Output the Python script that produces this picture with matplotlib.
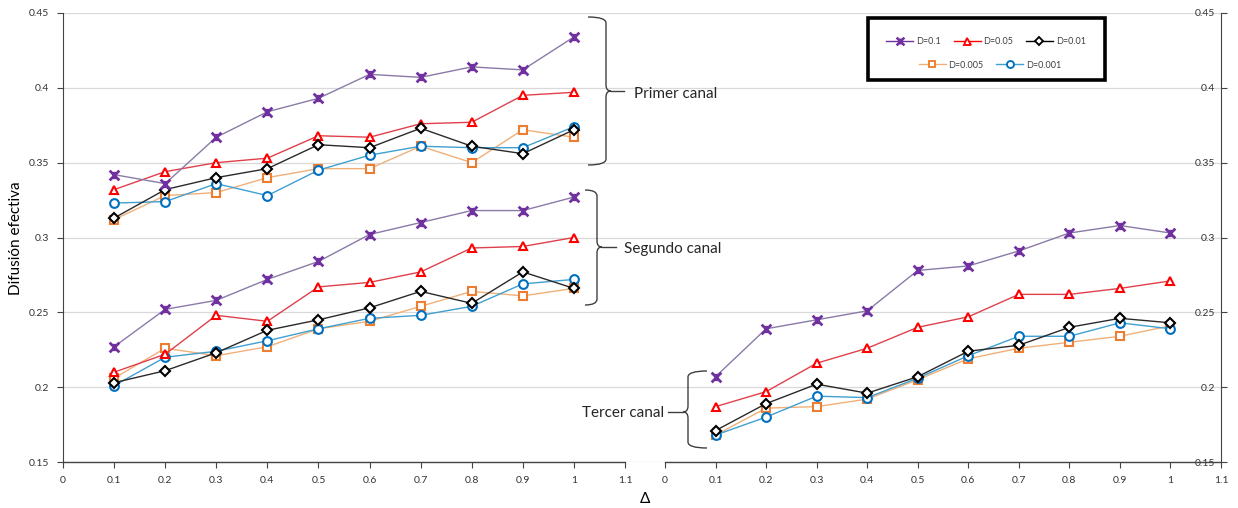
import matplotlib
matplotlib.use("Agg")
import matplotlib.pyplot as plt
from matplotlib.path import Path
from matplotlib.patches import PathPatch, Rectangle
from matplotlib.lines import Line2D

plt.rcParams['font.family'] = ['Lato', 'DejaVu Sans']

# ---------------- data ----------------
delta = [0.1, 0.2, 0.3, 0.4, 0.5, 0.6, 0.7, 0.8, 0.9, 1.0]
labels = ["D=0.1", "D=0.05", "D=0.01", "D=0.005", "D=0.001"]

# Primer canal (left panel, upper group)
primer_D0_1   = [0.342, 0.336, 0.367, 0.384, 0.393, 0.409, 0.407, 0.414, 0.412, 0.434]
primer_D0_05  = [0.332, 0.344, 0.350, 0.353, 0.368, 0.367, 0.376, 0.377, 0.395, 0.397]
primer_D0_01  = [0.313, 0.332, 0.340, 0.346, 0.362, 0.360, 0.373, 0.361, 0.356, 0.372]
primer_D0_005 = [0.312, 0.328, 0.330, 0.340, 0.346, 0.346, 0.361, 0.350, 0.372, 0.367]
primer_D0_001 = [0.323, 0.324, 0.336, 0.328, 0.345, 0.355, 0.361, 0.360, 0.360, 0.374]

# Segundo canal (left panel, lower group)
segundo_D0_1   = [0.227, 0.252, 0.258, 0.272, 0.284, 0.302, 0.310, 0.318, 0.318, 0.327]
segundo_D0_05  = [0.210, 0.222, 0.248, 0.244, 0.267, 0.270, 0.277, 0.293, 0.294, 0.300]
segundo_D0_01  = [0.203, 0.211, 0.223, 0.238, 0.245, 0.253, 0.264, 0.256, 0.277, 0.266]
segundo_D0_005 = [0.206, 0.226, 0.221, 0.227, 0.239, 0.244, 0.254, 0.264, 0.261, 0.266]
segundo_D0_001 = [0.201, 0.220, 0.224, 0.231, 0.239, 0.246, 0.248, 0.254, 0.269, 0.272]

# Tercer canal (right panel)
tercer_D0_1   = [0.207, 0.239, 0.245, 0.251, 0.278, 0.281, 0.291, 0.303, 0.308, 0.303]
tercer_D0_05  = [0.187, 0.197, 0.216, 0.226, 0.240, 0.247, 0.262, 0.262, 0.266, 0.271]
tercer_D0_01  = [0.171, 0.189, 0.202, 0.196, 0.207, 0.224, 0.228, 0.240, 0.246, 0.243]
tercer_D0_005 = [0.168, 0.186, 0.187, 0.192, 0.205, 0.219, 0.226, 0.230, 0.234, 0.241]
tercer_D0_001 = [0.168, 0.180, 0.194, 0.193, 0.206, 0.221, 0.234, 0.234, 0.243, 0.239]

xticks = [0, 0.1, 0.2, 0.3, 0.4, 0.5, 0.6, 0.7, 0.8, 0.9, 1.0, 1.1]
xticklabels = ["0", "0.1", "0.2", "0.3", "0.4", "0.5", "0.6", "0.7", "0.8", "0.9", "1", "1.1"]
yticks = [0.15, 0.2, 0.25, 0.3, 0.35, 0.4, 0.45]
yticklabels = ["0.15", "0.2", "0.25", "0.3", "0.35", "0.4", "0.45"]

# ---------------- styles ----------------
star = Path([(-1, -1), (1, 1), (-1, 1), (1, -1), (0, -0.75), (0, 0.75)],
            [Path.MOVETO, Path.LINETO, Path.MOVETO, Path.LINETO, Path.MOVETO, Path.LINETO])
styles = {
    "D=0.1":   dict(line='#8a7aa8', mk=star, mc='#7030a0', ms=7, mew=2.0, z=6),
    "D=0.05":  dict(line='#e0404c', mk='^', mc='#ff0000', ms=6.3, mew=1.5, z=4),
    "D=0.01":  dict(line='#2a2a2a', mk='D', mc='#000000', ms=4.8, mew=1.5, z=5),
    "D=0.005": dict(line='#f0b07a', mk='s', mc='#ed7d31', ms=5.8, mew=1.5, z=2),
    "D=0.001": dict(line='#40a0d0', mk='o', mc='#0070c0', ms=6.3, mew=1.5, z=3),
}

W, H = 1238, 508
fig = plt.figure(figsize=(W / 100, H / 100), dpi=100)

def fx(px):
    return px / W

def fy(py):
    return 1 - py / H

x_left0, x_left1 = 63, 625
x_right0, x_right1 = 665, 1221
y_top, y_bot = 13, 462

# background grid spanning both panels
axg = fig.add_axes([fx(x_left0), fy(y_bot), fx(x_right1 - x_left0), (y_bot - y_top) / H])
axg.set_ylim(0.15, 0.45)
axg.set_xlim(0, 1)
axg.set_yticks(yticks)
axg.grid(axis='y', color='#d9d9d9', lw=0.9)
axg.tick_params(left=False, bottom=False, labelleft=False, labelbottom=False)
for s in axg.spines.values():
    s.set_visible(False)
axg.set_zorder(0)

axL = fig.add_axes([fx(x_left0), fy(y_bot), fx(x_left1 - x_left0), (y_bot - y_top) / H])
axR = fig.add_axes([fx(x_right0), fy(y_bot), fx(x_right1 - x_right0), (y_bot - y_top) / H])

tick_col = '#333333'
for ax in (axL, axR):
    ax.patch.set_alpha(0)
    ax.set_xlim(0, 1.1)
    ax.set_ylim(0.15, 0.45)
    ax.set_xticks(xticks)
    ax.set_xticklabels(xticklabels)
    ax.set_yticks(yticks)
    ax.set_yticklabels(yticklabels)
    ax.spines['top'].set_visible(False)
    ax.tick_params(axis='both', labelsize=7.5, labelcolor=tick_col, color='#444444',
                   direction='out', length=4, width=0.8)
    ax.tick_params(axis='x', pad=6)
    ax.spines['bottom'].set_color('#444444')
    ax.spines['bottom'].set_linewidth(1.0)

axL.spines['right'].set_visible(False)
axL.spines['left'].set_color('#444444')
axL.tick_params(axis='y', pad=6)

axR.spines['left'].set_visible(False)
axR.spines['right'].set_color('#444444')
axR.yaxis.tick_right()
axR.tick_params(axis='y', right=True, left=False, labelright=True, labelleft=False, pad=-8)
for lab in axR.get_yticklabels():
    lab.set_horizontalalignment('right')

def draw(ax, values, lab):
    st = styles[lab]
    ax.plot(delta, values, color=st['line'], lw=1.0, marker=st['mk'], ms=st['ms'],
            mec=st['mc'], mfc='white' if lab != "D=0.1" else st['mc'], mew=st['mew'],
            zorder=st['z'], label=lab)

primer = [primer_D0_1, primer_D0_05, primer_D0_01, primer_D0_005, primer_D0_001]
segundo = [segundo_D0_1, segundo_D0_05, segundo_D0_01, segundo_D0_005, segundo_D0_001]
tercer = [tercer_D0_1, tercer_D0_05, tercer_D0_01, tercer_D0_005, tercer_D0_001]
for lab, p, s, t in zip(labels, primer, segundo, tercer):
    draw(axL, p, lab)
    draw(axL, s, lab)
    draw(axR, t, lab)

# ---------------- overlay for braces / texts ----------------
ov = fig.add_axes([0, 0, 1, 1])
ov.set_xlim(0, W)
ov.set_ylim(H, 0)
ov.axis('off')
ov.patch.set_alpha(0)

brace_col = '#404040'

def brace(x0, x1, xt, ytop, ymid, ybot, r, xline):
    verts = [(x0, ytop), (x1, ytop), (x1, ytop + r),
             (x1, ymid - r), (x1, ymid), (xt, ymid),
             (x1, ymid), (x1, ymid + r),
             (x1, ybot - r), (x1, ybot), (x0, ybot)]
    codes = [Path.MOVETO, Path.CURVE3, Path.CURVE3,
             Path.LINETO, Path.CURVE3, Path.CURVE3,
             Path.CURVE3, Path.CURVE3,
             Path.LINETO, Path.CURVE3, Path.CURVE3]
    ov.add_patch(PathPatch(Path(verts, codes), fc='none', ec=brace_col, lw=1.0))
    ov.plot([xt, xline], [ymid, ymid], color=brace_col, lw=1.0)

brace(588, 606, 611, 17, 91, 165, 6, 624)
brace(585, 597, 602, 190, 247, 305, 6, 616)
brace(707, 688, 683, 371, 412, 448, 6, 668)

txt_kw = dict(fontsize=11, color='#262626', va='center')
ov.text(634, 94, "Primer canal", ha='left', **txt_kw)
ov.text(624, 249, "Segundo canal", ha='left', **txt_kw)
ov.text(664, 413, "Tercer canal", ha='right', **txt_kw)

ov.text(16, 238, "Difusión efectiva", rotation=90, ha='center', va='center',
        fontsize=11, color='black')
ov.text(645, 499, "Δ", ha='center', va='center', fontsize=11, color='black')

# ---------------- legend ----------------
ov.add_patch(Rectangle((868, 18), 1105 - 868, 80 - 18, fc='white', ec='black', lw=2.6, zorder=10))

def handle(lab):
    st = styles[lab]
    return Line2D([], [], color=st['mc'] if lab in ("D=0.1", "D=0.05", "D=0.01") else st['line'],
                  lw=1.0, marker=st['mk'], ms=st['ms'] * 0.8, mec=st['mc'],
                  mfc='white' if lab != "D=0.1" else st['mc'], mew=st['mew'] * 0.9)

leg_kw = dict(frameon=False, fontsize=6.5, handlelength=3.0, handletextpad=0.3,
              columnspacing=1.4, borderpad=0, labelcolor='#404040')
leg1 = fig.legend([handle(l) for l in labels[:3]], labels[:3], ncol=3, loc='center',
                  bbox_to_anchor=(fx(986), fy(42)), **leg_kw)
leg2 = fig.legend([handle(l) for l in labels[3:]], labels[3:], ncol=2, loc='center',
                  bbox_to_anchor=(fx(990), fy(65)), **leg_kw)
leg1.set_zorder(20)
leg2.set_zorder(20)

fig.savefig("out.png", dpi=100)
